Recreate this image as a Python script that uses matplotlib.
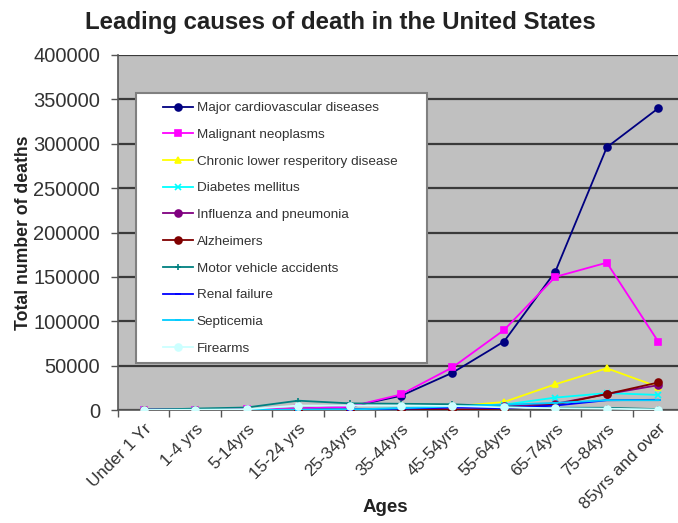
import numpy as np
import matplotlib.pyplot as plt
from matplotlib.patches import Rectangle
from matplotlib.ticker import FixedLocator, NullFormatter

plt.rcParams['font.family'] = ['Liberation Sans', 'DejaVu Sans']

ages = ['Under 1 Yr', '1-4 yrs', '5-14yrs', '15-24 yrs', '25-34yrs', '35-44yrs',
        '45-54yrs', '55-64yrs', '65-74yrs', '75-84yrs', '85yrs and over']

# deaths per age group for each cause
cardio = [500, 400, 500, 1500, 3500, 16000, 42000, 77000, 156000, 296000, 340000]
cancer = [100, 400, 1000, 1700, 3600, 17500, 48000, 90000, 150000, 166000, 77000]
clrd = [50, 50, 100, 200, 300, 1000, 4000, 9000, 29000, 47000, 26000]
diabetes = [0, 0, 100, 200, 600, 2000, 5000, 6000, 14000, 19000, 17000]
influenza = [300, 150, 150, 300, 500, 1000, 2500, 4000, 7000, 18000, 28000]
alzheimers = [0, 0, 0, 0, 0, 0, 200, 1500, 6000, 18000, 31000]
motor = [150, 1600, 2800, 10500, 7500, 7000, 6500, 4000, 2500, 2500, 1000]
renal = [0, 0, 0, 100, 500, 1500, 3000, 2000, 5000, 11000, 11500]
septicemia = [300, 100, 100, 300, 600, 2000, 4000, 6000, 8000, 11000, 11000]
firearms = [0, 300, 800, 5000, 5000, 5000, 4500, 3000, 2000, 1500, 500]

series = [
    ('Major cardiovascular diseases', cardio, '#000080', 'o'),
    ('Malignant neoplasms', cancer, '#ff00ff', 's'),
    ('Chronic lower resperitory disease', clrd, '#ffff00', '^'),
    ('Diabetes mellitus', diabetes, '#00ffff', 'x'),
    ('Influenza and pneumonia', influenza, '#800080', 'o'),
    ('Alzheimers', alzheimers, '#800000', 'o'),
    ('Motor vehicle accidents', motor, '#008080', '+'),
    ('Renal failure', renal, '#0000ff', '_'),
    ('Septicemia', septicemia, '#00ccff', '_'),
    ('Firearms', firearms, '#ccffff', 'o'),
]

fig = plt.figure(figsize=(6.78, 5.23), dpi=100, facecolor='white')
ax = fig.add_axes([118 / 678, 1 - 410 / 523, 566 / 678, 355 / 523])
ax.set_facecolor('#c0c0c0')

x = np.arange(len(ages))
for name, vals, col, mk in series:
    ax.plot(x, vals, color=col, lw=1.3, marker=mk, ms=5, mew=1.2, label=name, zorder=3)

ax.set_xlim(-0.5, len(ages) - 0.5)
ax.set_ylim(0, 400000)
ax.set_yticks(np.arange(0, 400001, 50000))
ax.yaxis.grid(True, color='#3a3a3a', lw=1.6)
ax.set_axisbelow(True)

ax.set_xticks(x)
ax.set_xticklabels(ages, rotation=45, ha='right', va='top', rotation_mode='anchor')
ax.xaxis.set_minor_locator(FixedLocator(np.arange(-0.5, len(ages), 1.0)))
ax.xaxis.set_minor_formatter(NullFormatter())
ax.tick_params(axis='x', which='major', length=0, pad=8, labelsize=12.3, colors='#333333')
ax.tick_params(axis='x', which='minor', length=5, width=1, color='#555555')
ax.tick_params(axis='y', length=5, width=1, color='#555555', labelsize=14.5,
               labelcolor='#333333', pad=8)

for s in ('top', 'right'):
    ax.spines[s].set_visible(False)
for s in ('left', 'bottom'):
    ax.spines[s].set_color('#555555')
    ax.spines[s].set_linewidth(1.2)

ax.set_ylabel('Total number of deaths', fontsize=12.7, fontweight='bold', color='#222222')
ax.yaxis.set_label_coords((32 - 118) / 566, 0.5)
ax.set_xlabel('Ages', fontsize=13.5, fontweight='bold', color='#222222')
ax.xaxis.set_label_coords((385 - 118) / 566, (410 - 508) / 355)
ax.xaxis.label.set_va('center')
fig.text(340 / 678, 1 - 22 / 523, 'Leading causes of death in the United States',
         ha='center', va='center', fontsize=17.3, fontweight='bold', color='#222222')

# white legend box drawn separately so its padding can be set freely
box = Rectangle(((136 - 118) / 566, (410 - 363) / 355), (427 - 136) / 566, (363 - 93) / 355,
                transform=ax.transAxes, facecolor='white', edgecolor='#808080', lw=1.5,
                zorder=5)
ax.add_patch(box)
leg = ax.legend(loc='upper left', bbox_to_anchor=((163 - 118) / 566, 0.868), fontsize=9.7,
                frameon=False, labelspacing=1.06, handlelength=2.2,
                handletextpad=0.3, borderpad=0, borderaxespad=0)
leg.set_zorder(6)
for t in leg.get_texts():
    t.set_color('#333333')

fig.savefig('out.png', dpi=100, facecolor='white')
